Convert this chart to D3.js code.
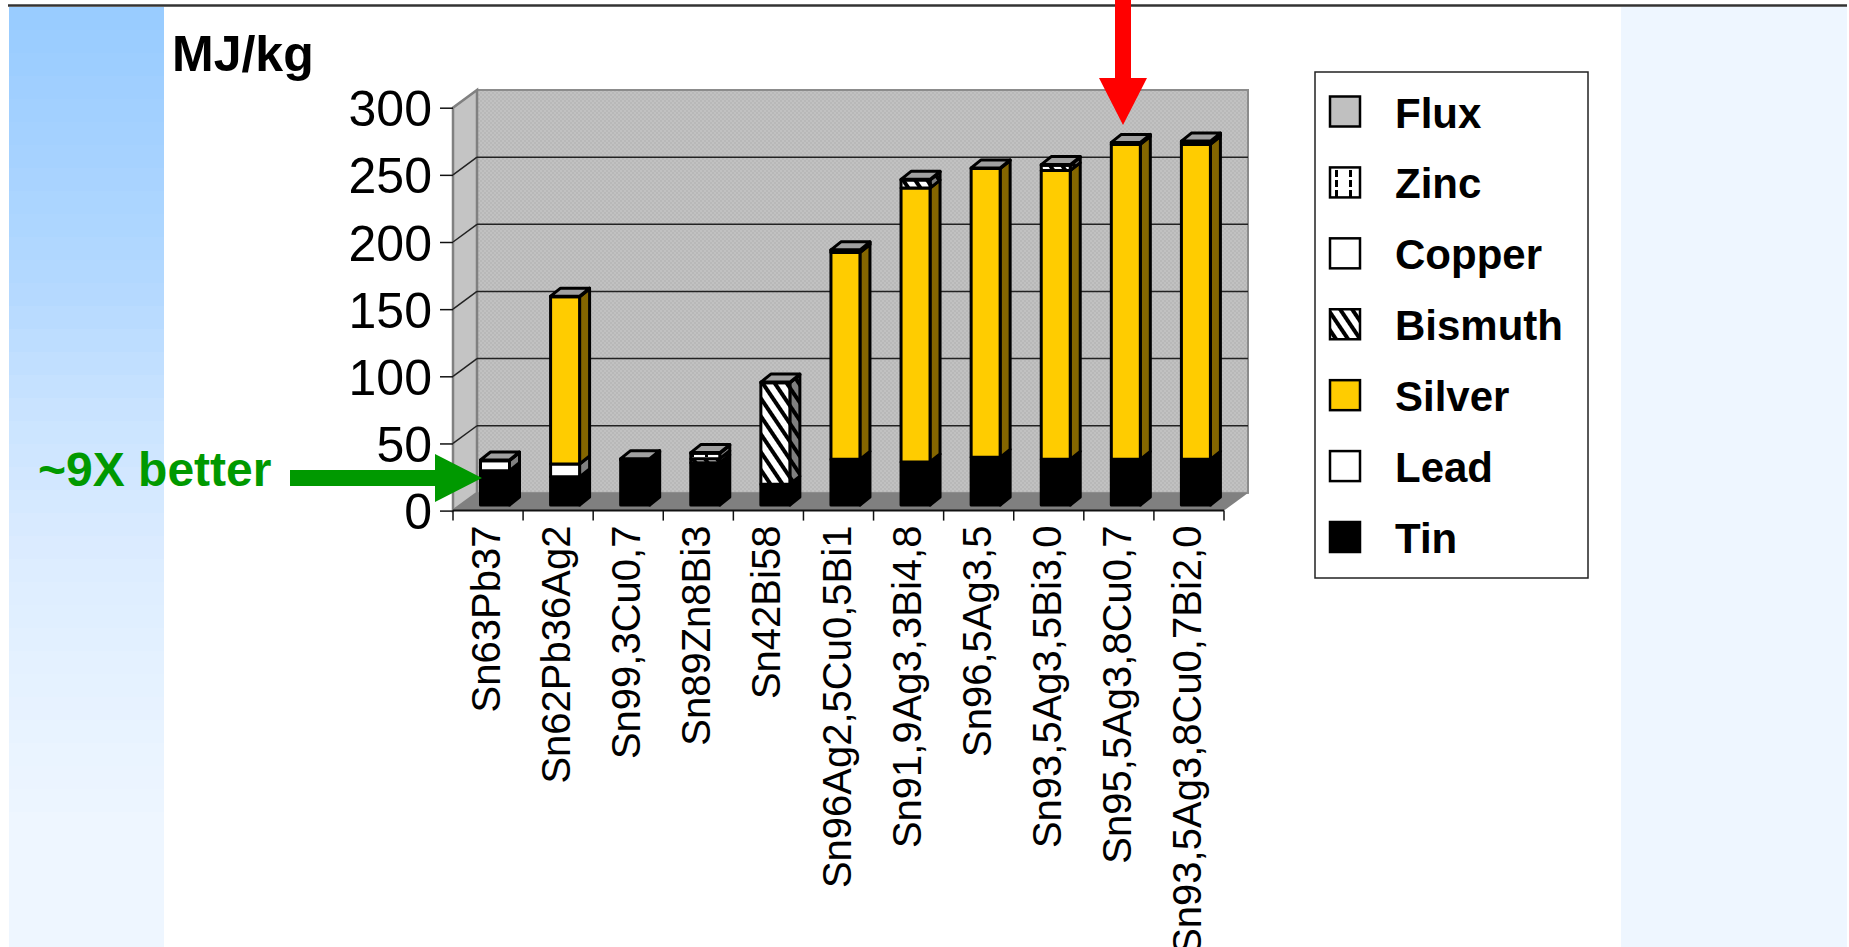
<!DOCTYPE html>
<html>
<head>
<meta charset="utf-8">
<script src="https://cdn.jsdelivr.net/npm/d3@7"></script>
<style>
  html, body { margin: 0; background: #fff; overflow: hidden; }
  svg { display: block; }
  text { font-family: "Liberation Sans", Arial, sans-serif; }
</style>
</head>
<body>
<svg id="chart" width="1849" height="947"></svg>
<script>
// Energy content of solder alloys, stacked by constituent metal (MJ/kg)
const categories = ["Sn63Pb37", "Sn62Pb36Ag2", "Sn99,3Cu0,7", "Sn89Zn8Bi3", "Sn42Bi58",
  "Sn96Ag2,5Cu0,5Bi1", "Sn91,9Ag3,3Bi4,8", "Sn96,5Ag3,5", "Sn93,5Ag3,5Bi3,0",
  "Sn95,5Ag3,8Cu0,7", "Sn93,5Ag3,8Cu0,7Bi2,0"];
const tin     = [25.5, 21, 33.5, 31.5, 15.5, 34, 32, 35.5, 34, 34, 34];
const lead    = [7.5, 9.5, 0, 0, 0, 0, 0, 0, 0, 0, 0];
const silver  = [0, 124.5, 0, 0, 0, 154, 204, 215, 215, 234.5, 234.5];
const bismuth = [0, 0, 0, 3, 75.5, 0.5, 6, 0, 4, 0, 1];
const copper  = [0, 0, 0.5, 0, 0, 1, 0, 0, 0, 1, 1];
const zinc    = [0, 0, 0, 4, 0, 0, 0, 0, 0, 0, 0];
const flux    = [0.5, 0.5, 0.5, 0.5, 0.5, 0.5, 0.5, 0.5, 0.5, 0.5, 0.5];
const seriesNames = ["Tin", "Lead", "Silver", "Bismuth", "Copper", "Zinc", "Flux"];
const seriesValues = [tin, lead, silver, bismuth, copper, zinc, flux];
const yTickValues = [0, 50, 100, 150, 200, 250, 300];
const bandShades = ["#99ccff", "#a6d2ff", "#b4d9ff", "#cbe4ff", "#dcecff", "#e6f2ff", "#eef6ff", "#eef6ff"];

const svg = d3.select("#chart");
const defs = svg.append("defs");

// Front-face and side-face paint for each constituent
const frontFill = { Tin: "#000", Lead: "#fff", Silver: "#ffcc00", Bismuth: "url(#stripes)",
  Copper: "#fff", Zinc: "url(#dashes)", Flux: "#c0c0c0" };
const sideFill = { Tin: "#000", Lead: "#808080", Silver: "#846600", Bismuth: "url(#stripesSide)",
  Copper: "#808080", Zinc: "#808080", Flux: "#606060" };

function stripePattern(id, paper) {
  const p = defs.append("pattern").attr("id", id)
    .attr("patternUnits", "userSpaceOnUse").attr("width", 10).attr("height", 10)
    .attr("patternTransform", "rotate(56)");
  p.append("rect").attr("width", 10).attr("height", 10).attr("fill", paper);
  p.append("rect").attr("width", 10).attr("height", 4).attr("fill", "#000");
}
stripePattern("stripes", "#fff");
stripePattern("stripesSide", "#808080");

const dashes = defs.append("pattern").attr("id", "dashes")
  .attr("patternUnits", "userSpaceOnUse").attr("width", 14).attr("height", 10);
dashes.append("rect").attr("width", 14).attr("height", 10).attr("fill", "#fff");
dashes.append("rect").attr("x", 5).attr("width", 3).attr("height", 7).attr("fill", "#000");

const dither = defs.append("pattern").attr("id", "dither")
  .attr("patternUnits", "userSpaceOnUse").attr("width", 4).attr("height", 4);
dither.append("rect").attr("width", 4).attr("height", 4).attr("fill", "#c1c1c1");
dither.append("rect").attr("width", 2).attr("height", 2).attr("fill", "#b8b8b8");
dither.append("rect").attr("x", 2).attr("y", 2).attr("width", 2).attr("height", 2).attr("fill", "#b8b8b8");

// Slide background: stepped blue band on the left, pale panel on the right
const bandTop = 7, bandStep = 23;
const bandColour = d3.scaleLinear()
  .domain(bandShades.map((_, i) => i * 135))
  .range(bandShades);
svg.append("g").selectAll("rect")
  .data(d3.range(bandTop, 947, bandStep))
  .join("rect")
  .attr("x", 9).attr("width", 155)
  .attr("y", d => d).attr("height", bandStep + 1)
  .attr("fill", d => bandColour(d - bandTop));
svg.append("rect").attr("x", 1621).attr("y", 7).attr("width", 226).attr("height", 940).attr("fill", "#eef6ff");
svg.append("line").attr("x1", 8).attr("x2", 1847).attr("y1", 5.5).attr("y2", 5.5)
  .attr("stroke", "#333").attr("stroke-width", 2.5);

// Scales: the front plane of the plot, plus the offsets of the 3-D depth
const x = d3.scaleBand().domain(categories).range([453, 1224]);
const y = d3.scaleLinear().domain([0, 300]).range([510.6, 107.7]);
const wallDx = 24, wallDy = -17.7;
const barInset = 27.5, barWidth = 29, barLift = 5.6, barDx = 10, barDy = -8;

const [plotLeft, plotRight] = x.range();
const y0 = y(0), yTop = y(300);

// Back wall, side wall and floor
const plot = svg.append("g");
plot.append("rect")
  .attr("x", plotLeft + wallDx).attr("y", yTop + wallDy)
  .attr("width", plotRight - plotLeft).attr("height", y0 - yTop)
  .attr("fill", "url(#dither)").attr("stroke", "#8c8c8c").attr("stroke-width", 2);
plot.append("path")
  .attr("d", d3.line()([[plotLeft, y0], [plotLeft, yTop], [plotLeft + wallDx, yTop + wallDy], [plotLeft + wallDx, y0 + wallDy]]) + "Z")
  .attr("fill", "#c4c4c4").attr("stroke", "#808080").attr("stroke-width", 2.5);
plot.append("path")
  .attr("d", d3.line()([[plotLeft, y0], [plotLeft + wallDx, y0 + wallDy], [plotRight + wallDx, y0 + wallDy], [plotRight, y0]]) + "Z")
  .attr("fill", "#808080");

// Gridlines on the back wall and the connectors running across the side wall
plot.selectAll("line.grid")
  .data(yTickValues.filter(v => v > 0 && v < 300))
  .join("line").attr("class", "grid")
  .attr("x1", plotLeft + wallDx).attr("x2", plotRight + wallDx)
  .attr("y1", d => y(d) + wallDy).attr("y2", d => y(d) + wallDy)
  .attr("stroke", "#222").attr("stroke-width", 1.5);
plot.selectAll("line.link")
  .data(yTickValues.filter(v => v > 0 && v < 300))
  .join("line").attr("class", "link")
  .attr("x1", plotLeft).attr("x2", plotLeft + wallDx)
  .attr("y1", d => y(d)).attr("y2", d => y(d) + wallDy)
  .attr("stroke", "#222").attr("stroke-width", 1.5);

// Stacked bars, drawn bottom segment first so upper outlines stay on top
const table = categories.map((name, i) => {
  const row = { name };
  seriesNames.forEach((s, k) => { row[s] = seriesValues[k][i]; });
  return row;
});
const stacked = d3.stack().keys(seriesNames)(table);
const barY = v => y(v) - barLift;
const bars = svg.append("g").attr("stroke", "#000").attr("stroke-width", 3).attr("stroke-linejoin", "round");

stacked.forEach(layer => {
  const g = bars.append("g");
  layer.filter(d => d[1] > d[0]).forEach(d => {
    const left = x(d.data.name) + barInset, right = left + barWidth;
    const top = barY(d[1]), bottom = barY(d[0]);
    g.append("path")
      .attr("d", d3.line()([[right, bottom], [right, top], [right + barDx, top + barDy], [right + barDx, bottom + barDy]]) + "Z")
      .attr("fill", sideFill[layer.key]);
    g.append("rect")
      .attr("x", left).attr("y", top).attr("width", barWidth).attr("height", bottom - top)
      .attr("fill", frontFill[layer.key]);
  });
});
// Top faces take the flux grey, seen above the last segment of each bar
const capLayer = stacked[stacked.length - 1];
bars.append("g").selectAll("path")
  .data(capLayer)
  .join("path")
  .attr("d", d => {
    const left = x(d.data.name) + barInset, right = left + barWidth, top = barY(d[1]);
    return d3.line()([[left, top], [left + barDx, top + barDy], [right + barDx, top + barDy], [right, top]]) + "Z";
  })
  .attr("fill", "#a0a0a0");

// Value axis
const yAxis = svg.append("g").attr("transform", `translate(${plotLeft},0)`)
  .call(d3.axisLeft(y).tickValues(yTickValues).tickSize(13).tickPadding(8));
yAxis.select(".domain").remove();
yAxis.selectAll("line").attr("stroke", "#111").attr("stroke-width", 1.5);
yAxis.selectAll("text").attr("font-size", 50).attr("fill", "#000").attr("font-family", "Liberation Sans")
  .attr("y", 2);

// Category axis: ticks sit on band edges, rotated labels on band centres
const xAxis = svg.append("g").attr("transform", `translate(0,${y0})`);
xAxis.append("line").attr("x1", plotLeft).attr("x2", plotRight).attr("stroke", "#111").attr("stroke-width", 2);
xAxis.selectAll("line.tick")
  .data(categories.map(c => x(c)).concat(plotRight))
  .join("line").attr("class", "tick")
  .attr("x1", d => d).attr("x2", d => d).attr("y1", 0).attr("y2", 10)
  .attr("stroke", "#111").attr("stroke-width", 1.5);
xAxis.selectAll("text")
  .data(categories)
  .join("text")
  .attr("transform", d => `translate(${x(d) + x.bandwidth() / 2 + 12},15) rotate(-90)`)
  .attr("text-anchor", "end")
  .attr("font-size", 40)
  .attr("fill", "#000")
  .text(d => d);

// Axis unit
svg.append("text").attr("x", 172).attr("y", 71)
  .attr("font-size", 50).attr("font-weight", "bold").attr("fill", "#000").text("MJ/kg");

// Legend, topmost series first
const legendNames = seriesNames.slice().reverse();
const legendY = d3.scalePoint().domain(legendNames).range([111.5, 537]);
const legend = svg.append("g");
legend.append("rect").attr("x", 1315).attr("y", 72).attr("width", 273).attr("height", 506)
  .attr("fill", "#fff").attr("stroke", "#222").attr("stroke-width", 1.5);
const legendRows = legend.selectAll("g.row").data(legendNames).join("g").attr("class", "row");
legendRows.append("rect")
  .attr("x", 1330).attr("y", d => legendY(d) - 15).attr("width", 30).attr("height", 30)
  .attr("fill", d => frontFill[d]).attr("stroke", "#000").attr("stroke-width", 2.5);
legendRows.append("text")
  .attr("x", 1395).attr("y", d => legendY(d) + 16)
  .attr("font-size", 42).attr("font-weight", "bold").attr("fill", "#000")
  .text(d => d);

// Callout arrows
const arrow = (points, fill) => svg.append("path").attr("d", d3.line()(points) + "Z").attr("fill", fill);
arrow([[290, 470], [435, 470], [435, 454], [482, 478], [435, 502], [435, 486], [290, 486]], "#009900");
arrow([[1115, 0], [1131, 0], [1131, 78], [1147, 78], [1123, 125], [1099, 78], [1115, 78]], "#ff0000");
svg.append("text").attr("x", 38).attr("y", 486)
  .attr("font-size", 48).attr("font-weight", "bold").attr("fill", "#009900").text("~9X better");
</script>
</body>
</html>
